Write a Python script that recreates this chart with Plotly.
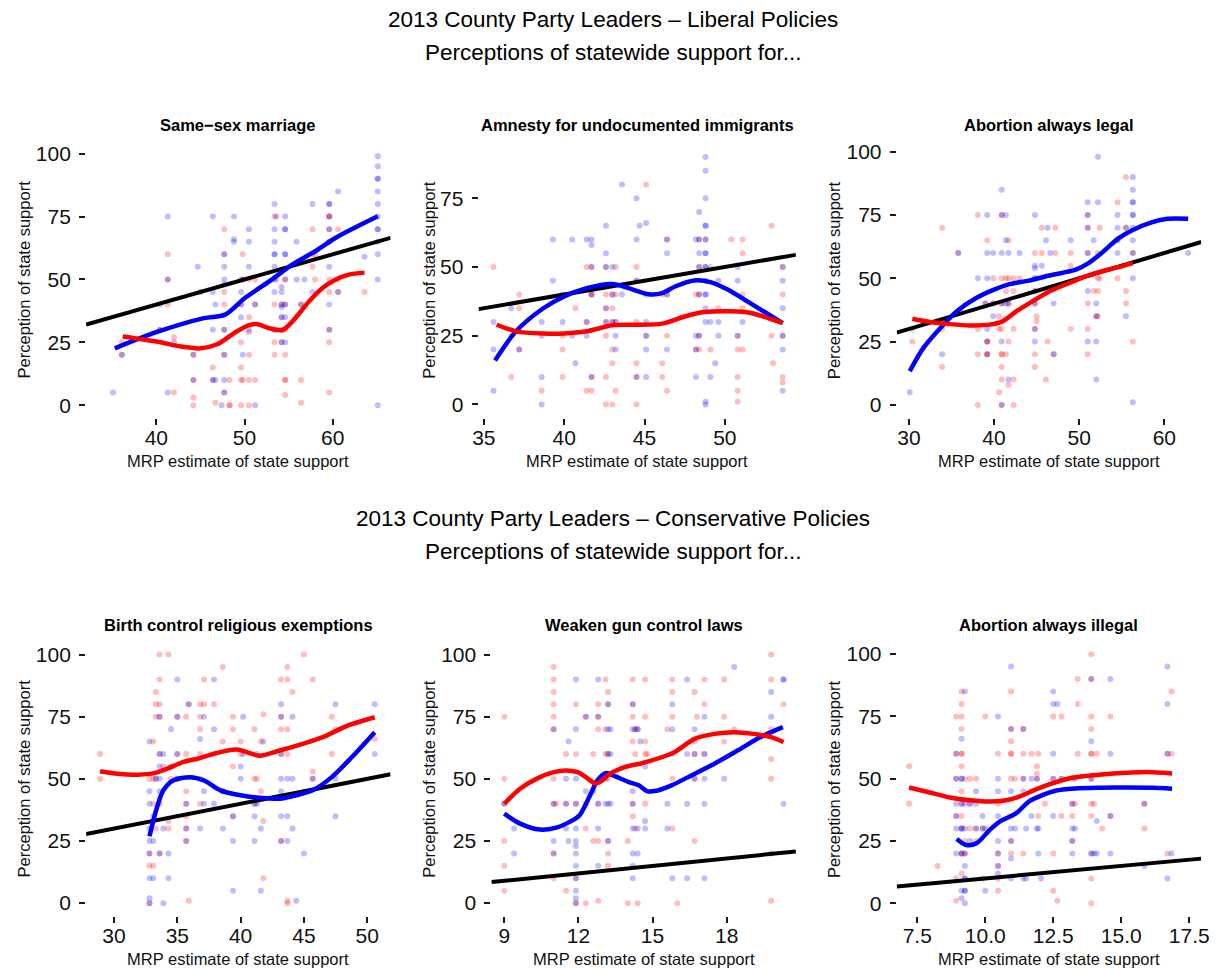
import plotly.graph_objects as go

FONT = "Liberation Sans, Arial, Helvetica, sans-serif"
W, H = 1227, 970

# ---------------- Same-sex marriage ----------------
ssm_red = [(36.1,25),(36.1,20),(40.4,30),(41.3,60),(41.3,50),(41.3,40),(42,5),(42,27),(44.2,20),(44.2,10),(44.2,3),(44.2,0),
           (46.4,15),(46.4,10),(46.7,1),(47.7,70),(47.7,60),(47.7,45),(47.7,40),(47.7,30),(47.7,20),(47.7,5),(48.3,10),(48.3,0),(48.3,0),
           (49.6,50),(49.6,40),(49.6,25),(49.6,15),(49.6,10),(49.6,0),(49.8,60),(49.8,50),(49.8,10),(50.5,50),(50.5,35),(50.5,29),
           (50.5,20),(50.5,10),(50.5,0),(51.2,50),(51.2,40),(51.2,10),(53.4,75),(53.4,40),(53.4,30),(53.4,25),(53.4,20),(53.6,50),
           (54.2,40),(54.2,35),(54.2,25),(54.6,50),(54.6,40),(54.6,30),(54.6,20),(54.6,10),(54.6,10),(54.6,4),(56.4,40),(56.4,10),(56.4,1),
           (57.7,70),(57.7,60),(57.7,55),(58,60),(58,50),(59.6,75),(59.6,75),(59.6,70),(59.6,65),(59.6,50),(59.6,45),(59.6,30),
           (59.6,25),(59.6,5),(60.6,70),(60.6,50),(60.6,45),(63.6,45)]
ssm_blue = [(35.1,5),(36.1,20),(40.4,40),(40.4,30),(41.3,75),(41.3,50),(41.3,5),(42,25),(44.2,20),(44.2,10),(44.7,55),(45,45),
            (46.4,75),(46.4,45),(46.4,30),(46.4,10),(46.7,40),(46.7,10),(47.4,0),(47.7,60),(47.7,55),(47.7,50),(47.7,48),(47.7,30),
            (47.7,20),(47.7,10),(47.7,5),(48.8,75),(48.8,66),(48.8,65),(49.6,45),(49.6,40),(49.6,35),(49.8,50),(49.8,20),(50.5,70),
            (50.5,65),(50.5,55),(50.5,30),(51.2,40),(51.2,0),(53.4,80),(53.4,70),(53.4,65),(53.4,60),(53.4,60),(53.4,55),(53.4,50),
            (53.4,45),(53.4,30),(53.6,75),(54.2,47),(54.2,45),(54.2,40),(54.2,39),(54.2,35),(54.2,30),(54.2,25),(54.6,75),(54.6,70),
            (54.6,70),(54.6,60),(54.6,60),(54.6,50),(54.6,40),(54.6,35),(54.6,25),(55.9,65),(55.9,50),(56.4,40),(56.8,50),(57.7,80),
            (57.7,45),(59.6,80),(59.6,80),(59.6,75),(59.6,70),(59.6,65),(59.6,55),(59.6,40),(59.6,30),(60.6,85),(60.6,45),(63.6,59),
            (65.1,99),(65.1,95),(65.1,90),(65.1,90),(65.1,85),(65.1,80),(65.1,75),(65.1,70),(65.1,70),(65.1,65),(65.1,60),(65.1,50),(65.1,0)]
ssm_red_fit = [(36.2,27.3),(40,25.3),(42.8,23.3),(45,22.6),(46.9,24.2),(49.1,29.3),(50.6,31.9),(51.5,32.2),(52.8,30.6),
               (54.3,29.9),(55.4,33.2),(57.3,41.2),(58.8,46.5),(60.3,49.9),(61.8,51.9),(63.6,52.7)]
ssm_blue_fit = [(35.3,22.6),(40,29),(45.4,34.6),(47.8,36),(50,42.5),(52.8,49.2),(55.4,55.9),(58,61.2),(60.3,66.5),(65.1,75.1)]

# ---------------- Amnesty ----------------
amn_red = [(35.6,50),(36.7,25),(36.7,10),(37.2,40),(37.2,35),(37.2,20),(38.6,5),(39.9,25),(39.9,20),(39.9,10),(40.7,35),
           (41.4,50),(41.4,30),(41.4,5),(41.7,50),(41.7,40),(41.7,40),(41.7,10),(41.7,5),(42.6,50),(42.6,40),(42.6,35),(42.6,30),
           (42.6,25),(42.6,10),(42.6,0),(43,40),(43,35),(43,30),(43,20),(43,15),(43,0),(43.2,50),(43.2,40),(43.2,30),(43.2,5),
           (44.5,50),(44.5,45),(44.5,30),(44.5,15),(44.5,10),(44.5,0),(45.1,80),(45.1,25),(46.1,40),(46.1,15),(46.1,10),(46.4,60),
           (46.4,40),(46.4,25),(46.4,5),(48.2,40),(48.2,20),(48.4,60),(48.4,50),(48.4,40),(48.4,25),(48.4,20),(48.8,60),(49.1,50),
           (49.1,20),(49.6,35),(50.4,60),(50.8,25),(50.8,20),(50.8,10),(50.8,5),(50.8,1),(51.1,60),(51.1,55),(51.1,40),(51.1,35),
           (51.1,20),(52.9,65),(52.9,25),(53,15),(53.6,50),(53.6,40),(53.6,25),(53.6,10),(53.6,8)]
amn_blue = [(35.6,30),(35.6,20),(35.6,5),(36.7,35),(37.2,20),(38.6,30),(38.6,25),(38.6,10),(38.6,0),(39.3,60),(39.3,45),
            (39.9,40),(39.9,30),(40.5,60),(40.5,25),(40.7,15),(41.4,60),(41.4,30),(41.4,25),(41.7,60),(41.7,58),(41.7,50),(41.7,40),
            (41.7,10),(42.6,65),(42.6,55),(42.6,50),(42.6,35),(42.6,30),(43,50),(43,40),(43,30),(43.2,30),(43.2,25),(43.2,20),
            (43.6,80),(43.6,40),(44.5,75),(44.5,60),(44.5,45),(44.5,10),(44.7,65),(45.1,66),(45.1,40),(45.1,30),(45.1,25),(45.1,20),
            (45.1,10),(46.4,60),(46.4,55),(46.4,40),(46.4,20),(48.2,60),(48.2,25),(48.2,20),(48.2,10),(48.4,70),(48.4,60),(48.4,55),
            (48.4,50),(48.4,40),(48.4,25),(48.8,90),(48.8,85),(48.8,75),(48.8,65),(48.8,65),(48.8,60),(48.8,55),(48.8,55),(48.8,50),
            (48.8,50),(48.8,45),(48.8,40),(48.8,40),(48.8,35),(48.8,30),(48.8,1),(48.8,0),(49.1,30),(49.1,10),(49.4,15),(49.6,45),
            (49.6,30),(49.6,25),(50.8,50),(50.8,45),(50.8,25),(51.1,30),(53.6,50),(53.6,45),(53.6,35),(53.6,25),(53.6,20),(53.6,5)]
amn_red_fit = [(35.8,29),(37,26.6),(38.7,25.8),(40,25.8),(41.4,26.6),(43,28.8),(44.4,29),(46.1,29.4),(47.5,32),(48.7,33.6),
               (50.4,33.9),(51.6,33.3),(53.6,29.6)]
amn_blue_fit = [(35.7,16),(37,26.6),(38.7,35),(40,39.3),(41.4,42.3),(43,43.8),(44,42.3),(45.25,40.1),(46.1,40.5),(46.9,42.9),
                (48.1,45.1),(49.1,44.5),(50.2,41.7),(51.4,37.5),(52.4,33.9),(53.6,29.6)]

# ---------------- Abortion always legal ----------------
leg_red = [(30.4,30),(30.4,25),(33.9,70),(33.9,30),(33.9,15),(35.8,60),(38.1,75),(38.1,30),(38.1,20),(38.1,0),(39,40),(39.2,65),
           (39.2,25),(39.2,25),(39.2,20),(39.2,20),(39.9,50),(39.9,40),(40.6,35),(40.6,30),(40.6,5),(40.9,75),(40.9,50),(40.9,40),
           (40.9,30),(40.9,20),(40.9,20),(40.9,15),(40.9,10),(40.9,0),(41.4,50),(41.4,45),(41.4,20),(41.7,65),(41.7,50),(41.7,40),
           (41.7,25),(41.7,8),(42.3,50),(42.3,45),(42.3,30),(42.3,10),(42.3,0),(43,50),(44.8,60),(44.8,50),(44.8,45),(44.8,40),
           (44.8,30),(44.8,20),(44.8,15),(45,35),(45,33),(45.6,70),(45.6,60),(46.1,10),(46.3,25),(47,20),(47.2,70),(47.2,60),(49,60),
           (49,55),(49,30),(50,50),(51,75),(51,70),(51,60),(51,40),(51,30),(51,20),(51.7,45),(52,35),(52.2,60),(52.2,50),(52.2,45),
           (52.2,35),(52.4,70),(52.4,50),(54.5,80),(54.5,65),(54.5,50),(55.5,90),(55.5,70),(55.5,45),(55.5,40),(56.3,60),(56.3,25)]
leg_blue = [(30.1,5),(33.9,20),(35.8,60),(38.1,50),(39,40),(39.2,75),(39.2,60),(39.2,50),(39.2,30),(39.2,25),(39.2,20),(39.9,60),
            (39.9,40),(39.9,35),(40.9,85),(40.9,75),(40.9,60),(40.9,40),(40.9,25),(40.9,0),(41.4,75),(41.4,65),(41.4,40),(41.7,60),
            (41.7,40),(41.7,10),(43,60),(44.8,75),(44.8,55),(44.8,54),(44.8,50),(44.8,45),(44.8,40),(44.8,30),(44.8,25),(45.6,55),
            (46.1,65),(46.3,70),(46.6,60),(47,40),(47,20),(49,65),(51,80),(51,75),(51,70),(51,60),(51,45),(51,25),(51.7,65),(52,40),
            (52,35),(52,25),(52,10),(52.2,98),(52.2,80),(54.5,75),(54.5,70),(54.5,65),(54.5,60),(55.5,70),(55.5,35),(56.3,90),
            (56.3,85),(56.3,80),(56.3,80),(56.3,75),(56.3,75),(56.3,70),(56.3,65),(56.3,60),(56.3,50),(56.3,1),(62.8,60)]
leg_red_fit = [(30.4,34),(32.5,32.7),(34.8,31.9),(37.2,31.4),(39.5,31.7),(41,33),(42.6,36.9),(44.5,40.9),(46.5,44.8),
               (48.8,48.1),(50.7,50.7),(52.6,52.7),(54.6,54.4),(56.3,56)]
leg_blue_fit = [(30.1,13.3),(31.7,22.5),(33.7,30.4),(35.6,36.9),(37.9,42.2),(40,45.5),(41.8,47.7),(44.1,49.1),(46.5,51.1),
                (49.6,53.4),(51.1,56),(52.6,59.9),(54.6,65.8),(56.3,69.1),(58.5,72.1),(60.4,73.5),(62.8,73.5)]

# ---------------- Birth control religious exemptions ----------------
bc_red = [(28.9,60),(28.9,50),(32.8,50),(32.8,20),(32.8,15),(32.8,0),(33.1,65),(33.1,50),(33.1,40),(33.1,15),(33.3,85),(33.3,80),
          (33.3,75),(33.3,50),(33.3,30),(33.6,100),(33.6,90),(33.6,80),(33.6,75),(33.6,60),(33.6,20),(33.9,55),(34.3,100),(34.3,33),
          (34.3,30),(34.5,50),(35,75),(35,60),(35,50),(35,50),(35.7,75),(35.7,60),(35.7,45),(35.7,40),(35.7,35),(35.7,30),(35.7,25),
          (35.9,80),(35.9,1),(36.8,80),(36.8,75),(36.8,70),(36.8,60),(36.8,50),(36.8,40),(37.1,90),(37.1,80),(37.9,80),(38.6,95),
          (38.6,65),(38.6,45),(39.4,75),(39.4,70),(39.4,55),(39.4,35),(40,65),(40,60),(41.1,70),(41.1,50),(41.1,40),(41.3,50),
          (41.6,65),(41.6,45),(41.8,76),(41.8,33),(41.8,10),(43.2,90),(43.2,75),(43.2,70),(43.2,60),(43.2,25),(43.7,95),(43.7,90),
          (43.7,70),(43.7,60),(43.7,1),(43.7,0),(44.1,85),(45,100),(45.7,90),(45.7,53),(45.7,50),(47.2,75),(47.2,60),(47.5,70),(50.6,66)]
bc_blue = [(32.8,65),(32.8,45),(32.8,40),(32.8,30),(32.8,25),(32.8,20),(32.8,10),(32.8,2),(32.8,0),(33.1,35),(33.1,25),(33.1,10),
           (33.3,50),(33.6,75),(33.6,60),(33.6,55),(33.6,50),(33.6,45),(33.6,40),(33.6,20),(33.9,60),(33.9,30),(33.9,0),(34.3,20),
           (34.3,10),(34.5,70),(34.5,55),(35,90),(35,75),(35,60),(35,50),(35.7,40),(35.7,30),(35.7,25),(35.9,80),(36.8,66),(36.8,30),
           (37.1,75),(37.1,45),(37.1,40),(37.9,90),(37.9,70),(37.9,40),(38.6,45),(38.6,30),(39.4,35),(39.4,25),(39.4,5),(40,55),
           (40,50),(40.2,75),(40.2,60),(41.1,40),(41.1,35),(41.1,25),(41.3,60),(41.3,40),(41.6,30),(41.6,5),(41.8,65),(43.2,80),
           (43.2,75),(43.2,60),(43.2,50),(43.2,45),(43.2,35),(43.2,25),(43.7,50),(43.7,35),(43.7,25),(44.1,75),(44.1,50),(44.1,30),
           (44.4,1),(45,20),(45.7,50),(47.5,80),(47.5,50),(47.5,35),(50.6,80),(50.6,60)]
bc_red_fit = [(28.9,53.1),(30.3,52.1),(31.9,51.7),(33.2,52.3),(34.2,54.1),(35.5,56.8),(36.6,58.1),(38.1,60.4),(39.7,61.8),
              (40.7,60.4),(41.5,59.3),(43.1,61.4),(44.9,64.1),(46.5,66.8),(48.5,71.5),(50.6,74.8)]
bc_blue_fit = [(32.8,26.9),(33.4,38.7),(33.9,45.4),(34.7,49.4),(36,50.7),(37.1,49.4),(38.4,45.4),(40,43.4),(41.5,42.4),
               (43.1,42),(44.4,43.4),(45.7,45.4),(47.2,50.7),(48.8,58.8),(50.6,68.8)]

# ---------------- Weaken gun control laws ----------------
gun_red = [(9,75),(9,50),(9,40),(9,25),(9,15),(9,5),(11,95),(11,90),(11,85),(11,80),(11,75),(11,70),(11,50),(11,40),(11,20),
           (11,10),(11.1,40),(11.5,60),(11.5,40),(11.5,5),(11.9,80),(11.9,60),(11.9,40),(11.9,10),(11.9,0),(12.3,75),(12.3,40),
           (12.3,30),(12.3,0),(12.6,60),(12.6,25),(12.8,80),(12.8,75),(12.8,70),(12.8,40),(12.8,25),(12.8,1),(13.1,90),(13.1,70),
           (13.1,60),(13.2,85),(13.2,80),(13.2,60),(13.2,50),(13.2,25),(13.2,20),(13.2,15),(14,25),(14,0),(14.2,90),(14.2,80),
           (14.2,75),(14.2,65),(14.2,40),(14.2,35),(14.3,70),(14.3,60),(14.3,30),(14.4,70),(14.4,0),(14.7,90),(14.7,75),(14.7,65),
           (14.7,60),(14.7,40),(14.8,60),(15.6,70),(15.8,90),(15.8,85),(15.8,75),(15.8,50),(15.8,30),(16,0),(16.7,85),(16.7,65),
           (16.7,60),(16.7,50),(16.7,25),(16.8,75),(17.1,90),(17.1,80),(17.1,60),(17.9,90),(17.9,75),(17.9,65),(18.3,70),(19.8,100),
           (19.8,90),(19.8,70),(19.8,58),(19.8,50),(19.8,1),(20.3,80)]
gun_blue = [(9,40),(9.4,30),(9.4,20),(11,70),(11,40),(11,25),(11,20),(11.5,50),(11.5,40),(11.5,30),(11.6,65),(11.6,25),(11.9,90),
            (11.9,70),(11.9,50),(11.9,40),(11.9,30),(11.9,25),(11.9,23),(11.9,20),(11.9,15),(11.9,10),(11.9,5),(11.9,2),(11.9,0),
            (12.3,75),(12.3,45),(12.6,45),(12.8,90),(12.8,75),(12.8,40),(12.8,30),(12.8,15),(13.1,50),(13.1,40),(13.2,80),(13.2,70),
            (13.2,60),(13.2,40),(13.2,25),(13.3,70),(13.3,60),(13.3,40),(14.2,80),(14.2,70),(14.2,45),(14.2,40),(14.2,30),(14.2,20),
            (14.2,15),(14.2,10),(14.3,70),(14.4,70),(14.4,30),(14.4,20),(14.5,65),(14.7,55),(14.7,33),(14.7,30),(15.6,40),(15.6,30),
            (15.8,80),(15.8,70),(15.8,60),(15.8,10),(16.4,90),(16.4,60),(16.4,40),(16.4,10),(16.7,70),(16.7,60),(16.7,50),(17.1,75),
            (17.1,60),(17.1,50),(17.1,40),(17.1,10),(17.9,50),(18.3,95),(19.8,85),(19.8,75),(19.8,20),(20.3,90),(20.3,90),(20.3,40)]
gun_red_fit = [(9,40),(9.64,46),(10.3,50),(11,52.7),(11.5,53.4),(11.97,52.7),(12.3,50.7),(12.7,48.1),(12.97,49.4),(13.24,51.8),
               (13.9,54.8),(14.6,56.4),(15.4,58.8),(15.9,60.8),(16.7,66.1),(17.5,68.1),(18.3,68.8),(19.1,68.1),(19.8,66.8),(20.3,64.8)]
gun_blue_fit = [(9,36),(9.64,32),(10.44,29.6),(11.1,30.4),(11.64,32.7),(12.04,35.3),(12.44,42.7),(12.77,49.4),(13.1,52.3),
                (13.5,51),(14.04,48.7),(14.44,47.4),(14.77,45.1),(15.1,45.1),(15.77,47.4),(16.57,51.4),(17.5,56.1),(18.44,61.4),
                (19.37,66.8),(20.27,70.8)]

# ---------------- Abortion always illegal ----------------
ill_red = [(7.2,55),(7.2,40),(8.25,15),(8.93,75),(8.93,60),(8.93,50),(8.93,35),(8.93,10),(8.93,1),(9.13,85),(9.13,80),(9.13,75),
           (9.13,70),(9.13,60),(9.13,60),(9.13,55),(9.13,45),(9.13,40),(9.13,35),(9.13,30),(9.13,20),(9.13,20),(9.13,12),(9.25,50),
           (9.25,25),(9.25,20),(9.44,50),(9.44,40),(9.44,30),(9.66,50),(9.66,30),(9.66,25),(9.9,30),(10,75),(10.47,60),(10.47,40),
           (10.47,20),(10.47,15),(10.47,10),(10.47,5),(10.95,85),(10.95,70),(10.95,65),(10.95,60),(10.95,60),(10.95,50),(10.95,25),
           (10.95,20),(11.1,50),(11.4,70),(11.4,60),(11.4,50),(11.4,20),(11.7,60),(11.9,55),(11.9,52),(11.9,50),(11.95,60),(11.95,35),
           (12.2,40),(12.5,75),(12.5,50),(12.5,20),(12.5,5),(12.65,1),(12.8,75),(12.8,50),(12.8,35),(13.2,50),(13.2,40),(13.2,35),
           (13.2,25),(13.3,40),(13.4,90),(13.4,80),(13.4,60),(13.9,100),(13.9,90),(13.9,75),(13.9,70),(13.9,60),(13.9,60),(13.9,50),
           (13.9,40),(13.9,35),(13.9,20),(13.9,10),(13.9,0),(14,40),(14.1,60),(14.3,30),(14.6,75),(14.6,35),(15.85,40),(15.85,30),
           (16.7,60),(16.7,20),(16.85,85),(16.85,60)]
ill_blue = [(8.93,60),(8.93,50),(8.93,40),(8.93,35),(8.93,30),(8.93,20),(9.13,66),(9.13,50),(9.13,50),(9.13,40),(9.13,30),(9.13,30),
            (9.13,20),(9.13,5),(9.13,2),(9.25,85),(9.25,40),(9.25,30),(9.25,20),(9.25,15),(9.25,10),(9.25,10),(9.25,5),(9.25,5),
            (9.25,0),(9.44,40),(9.44,25),(9.66,45),(9.66,40),(9.66,30),(9.9,35),(9.9,30),(9.9,10),(10,30),(10,5),(10.47,75),(10.47,50),
            (10.47,45),(10.47,35),(10.47,25),(10.47,20),(10.47,15),(10.47,12),(10.95,95),(10.95,70),(10.95,45),(10.95,30),(10.95,25),
            (10.95,18),(10.95,10),(11.1,30),(11.4,70),(11.4,50),(11.4,45),(11.4,10),(11.5,30),(11.5,10),(11.7,50),(11.7,35),(11.9,50),
            (11.9,30),(11.95,30),(11.95,20),(12.05,10),(12.5,85),(12.5,80),(12.5,60),(12.5,50),(12.5,35),(12.65,80),(12.8,50),
            (13.2,30),(13.2,25),(13.2,20),(13.2,40),(13.3,50),(13.3,30),(13.9,90),(13.9,65),(13.9,50),(13.9,20),(14,20),(14.1,33),
            (14.1,20),(14.6,90),(14.6,60),(14.6,35),(14.6,20),(15.85,40),(15.85,15),(16.7,95),(16.7,80),(16.7,60),(16.7,10),(16.85,20)]
ill_red_fit = [(7.2,46.5),(8,44.4),(8.7,42.5),(9.44,41.4),(10.16,40.9),(10.77,41.4),(11.25,42.8),(11.86,45.7),(12.46,48.1),
               (13.07,50.1),(13.8,51.2),(14.5,51.9),(15.24,52.4),(15.97,52.7),(16.87,52.1)]
ill_blue_fit = [(8.95,25.8),(9.3,23.4),(9.68,24.1),(10.16,29.4),(10.53,32.8),(11.13,36.1),(11.6,40.8),(12.1,43.4),(12.58,45.2),
                (13.3,46.1),(14.28,46.4),(15.25,46.5),(16.2,46.4),(16.87,46)]

# ---------------- labels ----------------
titles_top = ["Same\u2212sex marriage", "Amnesty for undocumented immigrants", "Abortion always legal"]
titles_bottom = ["Birth control religious exemptions", "Weaken gun control laws", "Abortion always illegal"]
x_label = "MRP estimate of state support"
y_label = "Perception of state support"
block_titles = ["2013 County Party Leaders \u2013 Liberal Policies", "2013 County Party Leaders \u2013 Conservative Policies"]
subtitle = "Perceptions of statewide support for..."

ticks_ssm = [40, 50, 60]
ticks_amn = [35, 40, 45, 50]
ticks_leg = [30, 40, 50, 60]
ticks_bc = [30, 35, 40, 45, 50]
ticks_gun = [9, 12, 15, 18]
ticks_ill = [7.5, 10.0, 12.5, 15.0, 17.5]
y_ticks = [0, 25, 50, 75, 100]
y_ticks_amn = [0, 25, 50, 75]


def px_x(p):
    return p / W


def px_y(p):
    return 1 - p / H


# panel layout: pixel boxes and axis ranges
panels = [
    dict(title=titles_top[0], red=ssm_red, blue=ssm_blue, rfit=ssm_red_fit, bfit=ssm_blue_fit,
         box=(81, 389, 140, 416.5), xr=(32.04, 66.55), yr=(-4.96, 104.76), xt=ticks_ssm, yt=y_ticks, fmt="d", ylab_x=18),
    dict(title=titles_top[1], red=amn_red, blue=amn_blue, rfit=amn_red_fit, bfit=amn_blue_fit,
         box=(478, 799, 140, 416.5), xr=(34.67, 54.42), yr=(-4.79, 95.57), xt=ticks_amn, yt=y_ticks_amn, fmt="d", ylab_x=428),
    dict(title=titles_top[2], red=leg_red, blue=leg_blue, rfit=leg_red_fit, bfit=leg_blue_fit,
         box=(901, 1209, 140, 416.5), xr=(28.57, 64.33), yr=(-5.04, 103.96), xt=ticks_leg, yt=y_ticks, fmt="d", ylab_x=837),
    dict(title=titles_bottom[0], red=bc_red, blue=bc_blue, rfit=bc_red_fit, bfit=bc_blue_fit,
         box=(81, 389, 641, 915.5), xr=(27.79, 51.85), yr=(-5.02, 105.2), xt=ticks_bc, yt=y_ticks, fmt="d", ylab_x=18),
    dict(title=titles_bottom[1], red=gun_red, blue=gun_blue, rfit=gun_red_fit, bfit=gun_blue_fit,
         box=(491, 799, 641, 915.5), xr=(8.48, 20.8), yr=(-5.02, 105.2), xt=ticks_gun, yt=y_ticks, fmt="d", ylab_x=428),
    dict(title=titles_bottom[2], red=ill_red, blue=ill_blue, rfit=ill_red_fit, bfit=ill_blue_fit,
         box=(901, 1209, 641, 915.5), xr=(6.745, 17.94), yr=(-4.93, 105.0), xt=ticks_ill, yt=y_ticks, fmt=".1f", ylab_x=837),
]

RED_PT = "rgba(255,0,0,0.26)"
BLUE_PT = "rgba(0,0,255,0.26)"

fig = go.Figure()
layout = dict(
    width=W, height=H, margin=dict(l=0, r=0, t=0, b=0),
    paper_bgcolor="white", plot_bgcolor="white", showlegend=False,
    font=dict(family=FONT, color="black"),
)
annotations = []

for i, p in enumerate(panels):
    n = "" if i == 0 else str(i + 1)
    xa, ya = "x" + n, "y" + n
    x0, x1, yt, yb = p["box"]
    common = dict(showgrid=False, zeroline=False, showline=False, ticks="outside", ticklen=6, tickwidth=2,
                  tickcolor="#1a1a1a", tickfont=dict(size=21, family=FONT, color="#111111"))
    layout["xaxis" + n] = dict(domain=[px_x(x0), px_x(x1)], range=list(p["xr"]), anchor=ya,
                               tickvals=p["xt"], tickformat=p["fmt"], ticklabelstandoff=-5, **common)
    layout["yaxis" + n] = dict(domain=[px_y(yb), px_y(yt)], range=list(p["yr"]), anchor=xa,
                               tickvals=p["yt"], ticklabelstandoff=4, **common)

    for pts, col in ((p["red"], RED_PT), (p["blue"], BLUE_PT)):
        fig.add_trace(go.Scatter(x=[a for a, b in pts], y=[b for a, b in pts], mode="markers", xaxis=xa, yaxis=ya,
                                 marker=dict(size=6, color=col, line=dict(width=0)), hoverinfo="skip"))
    # 45-degree reference line spanning the panel
    fig.add_trace(go.Scatter(x=list(p["xr"]), y=list(p["xr"]), mode="lines", xaxis=xa, yaxis=ya,
                             line=dict(color="black", width=4), hoverinfo="skip"))
    for fit, col in ((p["bfit"], "#0000FF"), (p["rfit"], "#FF0000")):
        fig.add_trace(go.Scatter(x=[a for a, b in fit], y=[b for a, b in fit], mode="lines", xaxis=xa, yaxis=ya,
                                 line=dict(color=col, width=4.5, shape="spline", smoothing=0.8), hoverinfo="skip"))

    cx = px_x((x0 + x1) / 2)
    annotations.append(dict(text="<b>%s</b>" % p["title"], x=cx, y=px_y(yt - 17), xref="paper", yref="paper",
                            showarrow=False, xanchor="center", yanchor="middle", font=dict(size=16.5, family=FONT, color="black")))
    annotations.append(dict(text=x_label, x=cx, y=px_y(yb + 43), xref="paper", yref="paper",
                            showarrow=False, xanchor="center", yanchor="middle", font=dict(size=16.5, family=FONT, color="#111111")))
    annotations.append(dict(text=y_label, x=px_x(p["ylab_x"]), y=px_y((yt + yb) / 2), xref="paper", yref="paper",
                            showarrow=False, xanchor="center", yanchor="middle", textangle=-90,
                            font=dict(size=16.5, family=FONT, color="#111111")))

for title, ty, sy in ((block_titles[0], 18, 51), (block_titles[1], 518, 551)):
    annotations.append(dict(text=title, x=0.5, y=px_y(ty), xref="paper", yref="paper", showarrow=False,
                            xanchor="center", yanchor="middle", font=dict(size=22.5, family=FONT, color="black")))
    annotations.append(dict(text=subtitle, x=0.5, y=px_y(sy), xref="paper", yref="paper", showarrow=False,
                            xanchor="center", yanchor="middle", font=dict(size=22.5, family=FONT, color="black")))

layout["annotations"] = annotations
fig.update_layout(**layout)
fig.write_html("out.html")
